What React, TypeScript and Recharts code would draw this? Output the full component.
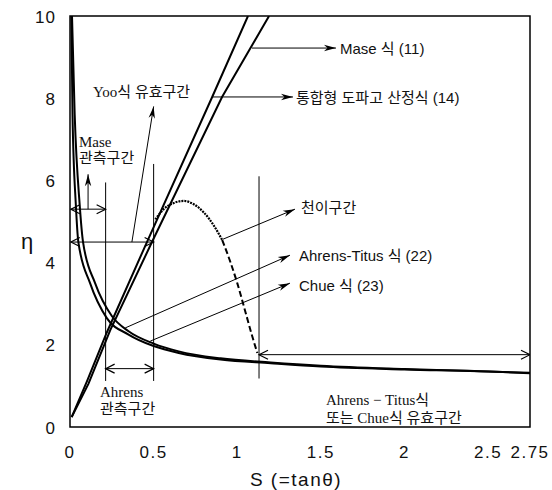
import React from "react";
import { LineChart, Line, XAxis, YAxis, ReferenceArea } from "recharts";

const WIDTH = 552;
const HEIGHT = 490;

const xTicks = [0, 0.5, 1, 1.5, 2, 2.5, 2.75];
const yTicks = [0, 2, 4, 6, 8, 10];

// rising lines
const integratedLine = [
  { x: 0.01, y: 0.24 },
  { x: 0.1, y: 1.1 },
  { x: 0.22, y: 2.3 },
  { x: 0.46, y: 4.5 },
  { x: 0.85, y: 8.03 },
  { x: 1.064, y: 10 },
];
const maseLine = [
  { x: 0.01, y: 0.24 },
  { x: 0.11, y: 1.05 },
  { x: 0.24, y: 2.35 },
  { x: 0.49, y: 4.5 },
  { x: 0.909, y: 8.03 },
  { x: 1.19, y: 10 },
];

// falling curves
const chueCurve = [
  { x: 0.008, y: 10 },
  { x: 0.015, y: 7.6 },
  { x: 0.035, y: 5.4 },
  { x: 0.05, y: 4.5 },
  { x: 0.12, y: 3.5 },
  { x: 0.22, y: 2.65 },
  { x: 0.35, y: 2.25 },
  { x: 0.5, y: 1.97 },
  { x: 0.65, y: 1.8 },
  { x: 0.9, y: 1.64 },
  { x: 1.2, y: 1.55 },
  { x: 1.5, y: 1.47 },
  { x: 2, y: 1.4 },
  { x: 2.5, y: 1.35 },
  { x: 2.75, y: 1.31 },
];
const ahrensTitusCurve = [
  { x: 0.012, y: 10 },
  { x: 0.028, y: 7.6 },
  { x: 0.058, y: 5.4 },
  { x: 0.078, y: 4.5 },
  { x: 0.15, y: 3.5 },
  { x: 0.25, y: 2.7 },
  { x: 0.35, y: 2.33 },
  { x: 0.5, y: 2.03 },
  { x: 0.65, y: 1.84 },
  { x: 0.9, y: 1.67 },
  { x: 1.2, y: 1.57 },
  { x: 1.5, y: 1.49 },
  { x: 2, y: 1.41 },
  { x: 2.5, y: 1.35 },
  { x: 2.75, y: 1.32 },
];

// transition zone hump
const transitionUpper = [
  { x: 0.51, y: 5.05 },
  { x: 0.56, y: 5.3 },
  { x: 0.62, y: 5.45 },
  { x: 0.68, y: 5.5 },
  { x: 0.74, y: 5.42 },
  { x: 0.8, y: 5.22 },
  { x: 0.86, y: 4.9 },
  { x: 0.91, y: 4.55 },
];
const transitionLower = [
  { x: 0.91, y: 4.55 },
  { x: 0.96, y: 4.0 },
  { x: 1.0, y: 3.5 },
  { x: 1.05, y: 2.78 },
  { x: 1.09, y: 2.2 },
  { x: 1.12, y: 1.8 },
];

// boundary lines
const boundLeft = [{ x: 0.213, y: 1.12 }, { x: 0.213, y: 5.95 }];
const boundMid = [{ x: 0.5, y: 1.12 }, { x: 0.5, y: 6.4 }];
const boundRight = [{ x: 1.13, y: 1.18 }, { x: 1.13, y: 6.1 }];

// range arrows (head = arrowhead at that end)
const maseRange = [{ x: 0.005, y: 5.3, head: true }, { x: 0.213, y: 5.3, head: true }];
const maseUp = [{ x: 0.108, y: 5.3 }, { x: 0.108, y: 6.15, head: true }];
const yooRange = [{ x: 0.005, y: 4.5, head: true }, { x: 0.5, y: 4.5, head: true }];
const yooUp = [{ x: 0.37, y: 4.5 }, { x: 0.5, y: 7.8, head: true }];
const ahrensRange = [{ x: 0.213, y: 1.42, head: true }, { x: 0.5, y: 1.42, head: true }];
const validRange = [{ x: 1.13, y: 1.76, head: true }, { x: 2.75, y: 1.76, head: true }];

// label pointers
const masePointer = [{ x: 1.088, y: 9.22 }, { x: 1.59, y: 9.22, head: true }];
const integratedPointer = [{ x: 0.85, y: 8.03 }, { x: 1.333, y: 8.03, head: true }];
const transitionPointer = [{ x: 0.915, y: 4.57 }, { x: 1.345, y: 5.3, head: true }];
const ahrensTitusPointer = [{ x: 0.33, y: 2.41 }, { x: 1.315, y: 4.18, head: true }];
const chuePointer = [{ x: 0.48, y: 2.09 }, { x: 1.315, y: 3.5, head: true }];

const SANS = "'Liberation Sans', Arial, 'Noto Sans CJK KR', sans-serif";
const SERIF = "'Liberation Serif', 'Times New Roman', 'Noto Sans CJK KR', serif";

function headGeom(props: any) {
  const { cx, cy, index, points, payload } = props;
  if (!payload || !payload.head || cx == null || !points) return null;
  const other = index > 0 ? points[index - 1] : points[index + 1];
  if (!other) return null;
  const dx = cx - other.x;
  const dy = cy - other.y;
  const len = Math.hypot(dx, dy) || 1;
  return { cx, cy, ux: dx / len, uy: dy / len };
}

function OpenHead(props: any) {
  const g = headGeom(props);
  if (!g) return <g key={`o-${props.index}`} />;
  const { cx, cy, ux, uy } = g;
  const L = 9;
  const w = 4.5;
  const bx = cx - ux * L;
  const by = cy - uy * L;
  return (
    <polyline
      key={`o-${props.index}`}
      points={`${bx - uy * w},${by + ux * w} ${cx},${cy} ${bx + uy * w},${by - ux * w}`}
      fill="none"
      stroke="#000"
      strokeWidth={1.2}
    />
  );
}

function FilledHead(props: any) {
  const g = headGeom(props);
  if (!g) return <g key={`f-${props.index}`} />;
  const { cx, cy, ux, uy } = g;
  const L = 12;
  const w = 3.2;
  const bx = cx - ux * L;
  const by = cy - uy * L;
  const nx = cx - ux * (L - 3.5);
  const ny = cy - uy * (L - 3.5);
  return (
    <polygon
      key={`f-${props.index}`}
      points={`${cx},${cy} ${bx - uy * w},${by + ux * w} ${nx},${ny} ${bx + uy * w},${by - ux * w}`}
      fill="#000"
    />
  );
}

const XTick = (props: any) => {
  const { x, y, payload } = props;
  return (
    <text x={x} y={y + 25} textAnchor="middle" dominantBaseline="central" fontSize={17} letterSpacing={1.5} fontFamily={SANS} fill="#111">
      {String(payload.value)}
    </text>
  );
};

const YTick = (props: any) => {
  const { x, y, payload } = props;
  return (
    <text x={x - 14} y={y + 1} textAnchor="end" dominantBaseline="central" fontSize={17} letterSpacing={1} fontFamily={SANS} fill="#111">
      {String(payload.value)}
    </text>
  );
};

const thin = { stroke: "#000", strokeWidth: 1, isAnimationActive: false, type: "linear" as const, dataKey: "y", legendType: "none" as const, activeDot: false as const };

export default function App() {
  return (
    <div style={{ position: "absolute", left: 0, top: 0, width: WIDTH, height: HEIGHT, background: "#fff" }}>
      <LineChart width={WIDTH} height={HEIGHT} margin={{ top: 16, right: 22, left: 0, bottom: 0 }}>
        <XAxis
          type="number"
          dataKey="x"
          domain={[0, 2.75]}
          ticks={xTicks}
          allowDataOverflow
          axisLine={false}
          tickLine={false}
          tickSize={0}
          tickMargin={0}
          height={63}
          tick={<XTick />}
          interval={0}
        />
        <YAxis
          type="number"
          dataKey="y"
          domain={[0, 10]}
          ticks={yTicks}
          allowDataOverflow
          axisLine={false}
          tickLine={false}
          tickSize={0}
          tickMargin={0}
          width={70}
          tick={<YTick />}
          interval={0}
        />
        <ReferenceArea x1={0} x2={2.75} y1={0} y2={10} fill="none" stroke="#000" strokeWidth={1.5} ifOverflow="visible" />

        {/* boundaries */}
        <Line {...thin} data={boundLeft} dot={false} />
        <Line {...thin} data={boundMid} dot={false} />
        <Line {...thin} data={boundRight} dot={false} />

        {/* range arrows */}
        <Line {...thin} data={maseRange} dot={<OpenHead />} />
        <Line {...thin} data={maseUp} dot={<FilledHead />} />
        <Line {...thin} data={yooRange} dot={<OpenHead />} />
        <Line {...thin} data={yooUp} dot={<FilledHead />} />
        <Line {...thin} data={ahrensRange} dot={<OpenHead />} />
        <Line {...thin} data={validRange} dot={<OpenHead />} />

        {/* pointers */}
        <Line {...thin} data={masePointer} dot={<FilledHead />} />
        <Line {...thin} data={integratedPointer} dot={<FilledHead />} />
        <Line {...thin} data={transitionPointer} dot={<FilledHead />} />
        <Line {...thin} data={ahrensTitusPointer} dot={<FilledHead />} />
        <Line {...thin} data={chuePointer} dot={<FilledHead />} />

        {/* main curves */}
        <Line data={integratedLine} dataKey="y" type="linear" stroke="#000" strokeWidth={2} dot={false} activeDot={false} isAnimationActive={false} />
        <Line data={maseLine} dataKey="y" type="linear" stroke="#000" strokeWidth={2} dot={false} activeDot={false} isAnimationActive={false} />
        <Line data={chueCurve} dataKey="y" type="monotone" stroke="#000" strokeWidth={2} dot={false} activeDot={false} isAnimationActive={false} />
        <Line data={ahrensTitusCurve} dataKey="y" type="monotone" stroke="#000" strokeWidth={2} dot={false} activeDot={false} isAnimationActive={false} />
        <Line data={transitionUpper} dataKey="y" type="monotone" stroke="#000" strokeWidth={2.2} strokeDasharray="2 1" dot={false} activeDot={false} isAnimationActive={false} />
        <Line data={transitionLower} dataKey="y" type="monotone" stroke="#000" strokeWidth={2} strokeDasharray="6 3" dot={false} activeDot={false} isAnimationActive={false} />
      </LineChart>

      <svg width={WIDTH} height={HEIGHT} style={{ position: "absolute", left: 0, top: 0, pointerEvents: "none" }}>
        <g fontFamily={SANS} fontSize={15} fill="#111" dominantBaseline="central">
          <text x={340} y={48}>Mase 식 (11)</text>
          <text x={296} y={97}>통합형 도파고 산정식 (14)</text>
          <text x={301} y={207}>천이구간</text>
          <text x={299} y={255}>Ahrens-Titus 식 (22)</text>
          <text x={299} y={285}>Chue 식 (23)</text>
        </g>
        <g fontFamily={SERIF} fontSize={15} fill="#111" dominantBaseline="central">
          <text x={93} y={92}>Yoo식 유효구간</text>
          <text x={79} y={142}>Mase</text>
          <text x={79} y={158}>관측구간</text>
          <text x={100} y={392}>Ahrens</text>
          <text x={100} y={409}>관측구간</text>
          <text x={326} y={400}>Ahrens − Titus식</text>
          <text x={326} y={418}>또는 Chue식 유효구간</text>
        </g>
        <text x={27} y={241} textAnchor="middle" dominantBaseline="central" fontFamily={SANS} fontSize={22} fill="#111">η</text>
        <text x={296} y={479} textAnchor="middle" dominantBaseline="central" fontFamily={SANS} fontSize={19} letterSpacing={1.5} fill="#111">S (=tanθ)</text>
      </svg>
    </div>
  );
}
